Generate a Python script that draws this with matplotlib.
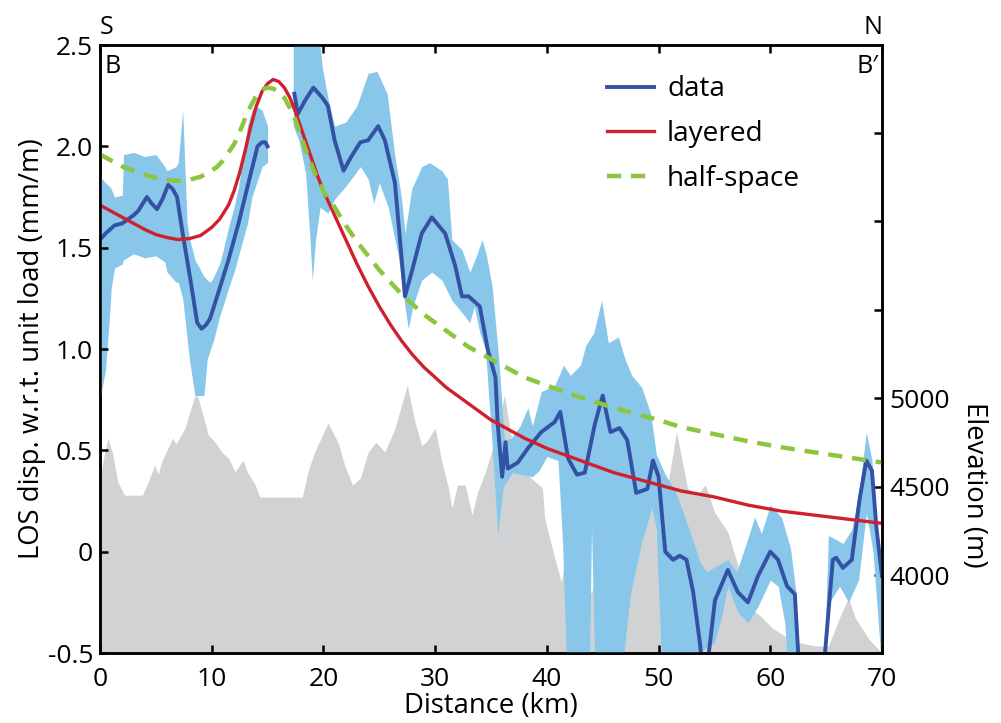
import numpy as np
import matplotlib
matplotlib.use("Agg")
import matplotlib.pyplot as plt

plt.rcParams['font.family'] = ['Open Sans', 'DejaVu Sans']

# elevation profile (km, m)
elev_km = [0, 0.2, 0.7, 1.1, 1.6, 2.2, 3.8, 4.3, 4.9, 5.2, 5.5, 6.5, 6.8, 7.6, 8.5, 8.8,
           9.7, 10.3, 10.9, 11.5, 12.1, 12.8, 13.2, 13.9, 14.3, 18.1, 18.6, 19.2, 19.8,
           20.4, 21.3, 21.9, 22.6, 23.3, 24.0, 24.7, 25.5, 26.4, 27.5, 28.2, 28.8, 29.2,
           30.0, 30.6, 31.2, 31.5, 32.0, 32.7, 33.3, 33.8, 34.5, 35.5, 36.2, 37.1, 38.3,
           39.6, 39.8, 40.7, 41.3, 41.8, 42.5, 43.2, 44.0, 45.0, 46.0, 46.7, 48.5, 49.4,
           50.1, 50.8, 51.6, 52.6, 53.4, 54.2, 55.0, 56.2, 57.1, 58.0, 59.3, 60.2, 61.6,
           62.8, 64.0, 65.2, 66.4, 67.0, 67.6, 68.8, 69.7, 70.0]
elev_m = [4560, 4620, 4775, 4695, 4525, 4452, 4452, 4525, 4622, 4570, 4638, 4775, 4740,
          4830, 5017, 5000, 4791, 4751, 4695, 4661, 4582, 4650, 4582, 4509, 4441, 4441,
          4582, 4695, 4775, 4859, 4751, 4622, 4509, 4548, 4695, 4751, 4695, 4830, 5073,
          4864, 4734, 4751, 4830, 4638, 4492, 4379, 4509, 4509, 4339, 4469, 4582, 4800,
          5017, 4678, 4565, 4492, 4322, 4096, 3960, 4170, 4050, 3950, 3900, 4150, 4300,
          4400, 4400, 4420, 4100, 4500, 4810, 4490, 4450, 4510, 4356, 4243, 4056, 3830,
          3757, 3700, 3644, 3616, 3600, 3600, 3790, 3870, 3760, 3640, 3580, 3560]

# data, southern part (0-15 km)
data1_km = [0, 0.5, 1.3, 2.0, 2.5, 3.0, 3.4, 4.2, 4.6, 5.1, 5.6, 6.1, 6.5, 6.9, 7.4, 8.1,
            8.7, 9.1, 9.5, 9.85, 10.6, 11.5, 12.4, 13.2, 14.1, 14.5, 14.8, 15.0]
data1 = [1.54, 1.57, 1.61, 1.62, 1.64, 1.66, 1.68, 1.75, 1.72, 1.69, 1.74, 1.81, 1.79,
         1.75, 1.57, 1.34, 1.13, 1.10, 1.12, 1.15, 1.28, 1.44, 1.62, 1.80, 2.0, 2.02,
         2.02, 2.0]

band1_km = [0, 0.5, 0.9, 1.0, 1.3, 2.0, 2.1, 3.0, 4.0, 5.0, 5.8, 6.0, 6.8, 7.0, 7.4, 7.8,
            8.0, 8.5, 9.3, 9.6, 9.9, 10.2, 10.7, 11.0, 11.5, 12.0, 12.4, 12.8, 13.2, 13.6,
            13.9, 14.5, 15.0]
band1_hi = [1.85, 1.82, 1.8, 1.79, 1.75, 1.76, 1.96, 1.97, 1.95, 1.96, 1.9, 1.88, 1.9,
            1.92, 2.18, 1.62, 1.55, 1.44, 1.36, 1.34, 1.33, 1.36, 1.42, 1.48, 1.6, 1.7,
            1.8, 1.95, 2.1, 2.18, 2.2, 2.18, 2.1]
band1_lo = [0.75, 0.9, 1.2, 1.3, 1.4, 1.42, 1.44, 1.47, 1.45, 1.46, 1.43, 1.38, 1.33,
            1.33, 1.25, 1.05, 0.95, 0.77, 0.77, 0.95, 1.0, 1.05, 1.16, 1.21, 1.3, 1.38,
            1.46, 1.54, 1.62, 1.75, 1.8, 1.9, 1.92]

# data, northern part (17.3-70 km)
data2_km = [17.4, 17.7, 18.4, 19.1, 19.9, 20.4, 21.0, 21.8, 22.5, 23.3, 24.0, 24.9, 25.5,
            26.4, 27.3, 27.9, 28.8, 29.7, 30.9, 31.8, 32.4, 33.0, 34.0, 34.7, 35.4, 35.6,
            36.0, 36.3, 36.5, 37.4, 38.3, 39.5, 40.7, 41.2, 41.9, 42.7, 43.4, 44.3, 45.0,
            45.7, 46.5, 47.2, 48.0, 49.0, 49.5, 50.0, 50.6, 51.3, 51.9, 52.5, 53.1, 53.7,
            54.0, 54.2, 54.5, 55.05, 56.2, 57.1, 58.0, 58.9, 60.0, 60.7, 61.5, 62.2, 62.5,
            62.8, 64.6, 64.9, 65.6, 65.9, 66.5, 67.3, 68.0, 68.6, 69.1, 69.5, 70.0]
data2 = [2.26, 2.16, 2.23, 2.29, 2.24, 2.2, 2.03, 1.88, 1.95, 2.02, 2.03, 2.1, 2.03, 1.82,
         1.26, 1.38, 1.57, 1.65, 1.57, 1.41, 1.26, 1.26, 1.21, 1.0, 0.86, 0.63, 0.37, 0.54,
         0.41, 0.44, 0.51, 0.59, 0.64, 0.69, 0.46, 0.38, 0.39, 0.63, 0.77, 0.59, 0.61,
         0.55, 0.29, 0.31, 0.45, 0.37, 0.0, -0.04, -0.02, -0.04, -0.2, -0.45, -0.6, -0.6,
         -0.5, -0.24, -0.09, -0.2, -0.25, -0.12, 0.0, -0.04, -0.17, -0.21, -0.5, -0.6,
         -0.6, -0.5, -0.04, -0.03, -0.08, -0.04, 0.26, 0.45, 0.40, 0.12, -0.12]

band2_hi_km = [17.3, 19.5, 19.9, 20.4, 21.0, 22.0, 23.0, 24.0, 24.8, 25.7, 26.4, 27.0,
               27.3, 27.9, 28.8, 29.5, 30.6, 31.1, 31.5, 32.4, 33.1, 33.7, 34.2, 34.6,
               35.1, 35.4, 35.7, 36.2, 36.8, 37.6, 38.3, 38.7, 39.5, 40.7, 41.5, 42.1,
               43.0, 43.5, 44.2, 44.9, 45.5, 46.4, 47.0, 47.6, 48.5, 49.3, 49.8, 50.6,
               51.5, 52.8, 53.7, 54.3, 55.2, 56.2, 57.0, 57.9, 58.6, 59.2, 60.0, 61.0,
               61.8, 62.3, 62.6, 64.8, 65.2, 65.9, 66.5, 67.3, 68.0, 68.6, 69.1, 69.5, 70.0]
band2_hi = [2.6, 2.6, 2.39, 2.24, 2.1, 2.12, 2.2, 2.36, 2.37, 2.26, 1.95, 1.74, 1.57, 1.79,
            1.9, 1.92, 1.88, 1.84, 1.54, 1.49, 1.38, 1.46, 1.54, 1.46, 1.31, 1.13, 0.95,
            0.55, 0.56, 0.62, 0.71, 0.62, 0.79, 0.82, 0.92, 0.87, 0.92, 1.02, 1.08, 1.24,
            1.03, 1.06, 0.95, 0.87, 0.81, 0.68, 0.48, 0.38, 0.30, 0.10, -0.05, -0.10,
            -0.07, -0.04, -0.1, 0.05, 0.17, 0.09, 0.23, 0.17, 0.02, -0.2, -0.6, -0.6, 0.08,
            0.06, 0.04, 0.11, 0.32, 0.59, 0.45, 0.16, -0.09]

band2_lo_km = [17.3, 17.8, 18.4, 18.8, 19.0, 19.3, 19.7, 20.4, 21.0, 21.8, 22.5, 23.3,
               24.0, 24.5, 25.0, 25.8, 26.7, 27.3, 27.6, 28.0, 28.8, 29.7, 30.6, 31.5,
               32.4, 33.1, 33.5, 34.0, 34.5, 35.1, 35.6, 36.1, 36.9, 37.8, 38.7, 39.3,
               40.0, 41.0, 41.4, 41.8, 43.8, 44.0, 44.3, 46.7, 47.5, 48.5, 49.4, 49.8,
               50.3, 55.0, 55.6, 56.2, 57.1, 58.0, 58.9, 60.0, 60.7, 61.3, 61.6, 64.8,
               65.3, 66.2, 67.0, 67.9, 68.6, 69.2, 69.6, 70.0]
band2_lo = [2.1, 2.03, 1.87, 1.54, 1.34, 1.54, 1.7, 1.67, 1.74, 1.79, 1.84, 1.9, 1.84,
            1.72, 1.82, 1.70, 1.46, 1.21, 1.1, 1.21, 1.34, 1.38, 1.34, 1.24, 1.18, 1.13,
            1.21, 1.08, 1.0, 0.53, 0.08, 0.32, 0.39, 0.38, 0.37, 0.40, 0.47, 0.45, 0.05,
            -0.6, -0.6, 0.12, -0.6, -0.6, -0.2, 0.05, 0.22, 0.1, -0.6, -0.45, -0.33,
            -0.17, -0.3, -0.35, -0.27, -0.14, -0.17, -0.35, -0.6, -0.6, -0.25, -0.17,
            -0.25, -0.14, 0.19, 0.0, -0.3, -0.6]

# model curves
layered_km = [0, 1, 2, 3, 4, 5, 6, 7, 8, 9, 10, 10.7, 11.5, 12, 12.5, 13, 13.5, 14, 14.5,
              15, 15.5, 16, 16.5, 17, 17.5, 18, 18.5, 19, 19.5, 20, 21, 22, 23, 24, 25,
              26, 27, 28, 29, 30, 31, 32, 33, 34, 35, 36, 38, 40, 42, 44, 46, 48, 50, 52,
              55, 58, 61, 64, 67, 70]
layered = [1.71, 1.68, 1.65, 1.62, 1.59, 1.565, 1.55, 1.54, 1.545, 1.56, 1.6, 1.64, 1.71,
           1.78, 1.87, 1.98, 2.1, 2.2, 2.27, 2.31, 2.33, 2.32, 2.29, 2.24, 2.17, 2.09,
           2.01, 1.93, 1.85, 1.78, 1.66, 1.54, 1.42, 1.31, 1.21, 1.12, 1.04, 0.97, 0.91,
           0.86, 0.81, 0.77, 0.73, 0.69, 0.65, 0.62, 0.56, 0.51, 0.47, 0.43, 0.39, 0.36,
           0.33, 0.30, 0.27, 0.23, 0.20, 0.18, 0.16, 0.14]
half_km = [0, 1, 2, 3, 4, 5, 6, 7, 8, 9, 10, 10.5, 11, 11.5, 12, 12.5, 13, 13.5, 14, 14.5,
           15, 15.5, 16, 16.5, 17, 17.5, 18, 18.5, 19, 19.5, 20, 21, 22, 23, 24, 25, 26,
           27, 28, 29, 30, 31, 32, 33, 34, 35, 36, 38, 40, 42, 44, 46, 48, 50, 52, 55,
           58, 61, 64, 67, 70]
half_space = [1.96, 1.93, 1.9, 1.88, 1.86, 1.845, 1.835, 1.83, 1.835, 1.85, 1.88, 1.9,
              1.93, 1.97, 2.01, 2.07, 2.14, 2.2, 2.25, 2.28, 2.29, 2.285, 2.27, 2.24, 2.19,
              2.13, 2.05, 1.97, 1.9, 1.83, 1.78, 1.70, 1.61, 1.53, 1.46, 1.39, 1.33, 1.27,
              1.22, 1.17, 1.13, 1.09, 1.05, 1.01, 0.98, 0.95, 0.92, 0.86, 0.82, 0.78,
              0.745, 0.71, 0.68, 0.65, 0.615, 0.58, 0.545, 0.515, 0.49, 0.465, 0.44]

fs_tick = 19
fs_lab = 19.8
fs_leg = 20.2
fs_tag = 18

fig = plt.figure(figsize=(10.01, 7.23), dpi=100)
ax = fig.add_axes([0.0999, 0.0968, 0.7812, 0.8409])
ax2 = ax.twinx()
ax.set_zorder(ax2.get_zorder() + 1)
ax.patch.set_visible(False)

# topography behind everything
ax2.fill_between(elev_km, elev_m, 3000, color='#d1d2d4', lw=0)
ax2.set_ylim(3560, 6995)
ax2.set_yticks([4000, 4500, 5000, 5500, 6000, 6500])
ax2.set_yticklabels(['4000', '4500', '5000', '', '', ''])
ax2.set_ylabel('Elevation (m)', fontsize=fs_lab, rotation=270, labelpad=0)
ax2.yaxis.set_label_coords(1.136, 0.276)

# uncertainty bands, hi/lo put on a common x grid
band_col = '#88c6ea'
ax.fill_between(band1_km, band1_lo, band1_hi, color=band_col, lw=0)
x2 = np.union1d(band2_hi_km, band2_lo_km)
ax.fill_between(x2, np.interp(x2, band2_lo_km, band2_lo),
                np.interp(x2, band2_hi_km, band2_hi), color=band_col, lw=0)

blue = '#3352a3'
ax.plot(data1_km, data1, color=blue, lw=2.8, solid_joinstyle='round', label='data')
ax.plot(data2_km, data2, color=blue, lw=2.8, solid_joinstyle='round')
ax.plot(layered_km, layered, color='#d0202e', lw=2.4, label='layered')
ax.plot(half_km, half_space, color='#8cc63f', lw=3.2, dashes=(3.2, 2.2), label='half-space')

ax.set_xlim(0, 70)
ax.set_ylim(-0.5, 2.5)
ax.set_yticks([-0.5, 0, 0.5, 1.0, 1.5, 2.0, 2.5])
ax.set_yticklabels(['-0.5', '0', '0.5', '1.0', '1.5', '2.0', '2.5'])
ax.set_xticks(range(0, 71, 10))
ax.set_xlabel('Distance (km)', fontsize=fs_lab, labelpad=0)
ax.set_ylabel('LOS disp. w.r.t. unit load (mm/m)', fontsize=fs_lab, labelpad=1)

for a in (ax, ax2):
    for s in a.spines.values():
        s.set_linewidth(1.8)
ax.tick_params(direction='in', length=6, width=1.8, labelsize=fs_tick, top=True, right=False)
ax.tick_params(axis='x', pad=10)
ax.tick_params(axis='y', pad=5)
ax2.tick_params(direction='in', length=6, width=1.8, labelsize=fs_tick, pad=5)

ax.text(0.0, 1.008, 'S', transform=ax.transAxes, fontsize=fs_tag, ha='left', va='bottom')
ax.text(1.0, 1.008, 'N', transform=ax.transAxes, fontsize=fs_tag, ha='right', va='bottom')
ax.text(0.006, 0.985, 'B', transform=ax.transAxes, fontsize=fs_tag, ha='left', va='top')
ax.text(0.996, 0.985, 'B\u2032', transform=ax.transAxes, fontsize=fs_tag, ha='right', va='top')

ax.legend(loc='upper left', bbox_to_anchor=(0.648, 0.95), frameon=False, fontsize=fs_leg,
          borderpad=0, borderaxespad=0, handlelength=1.7, handletextpad=0.45,
          labelspacing=0.6)

fig.savefig('out.png', dpi=100)
